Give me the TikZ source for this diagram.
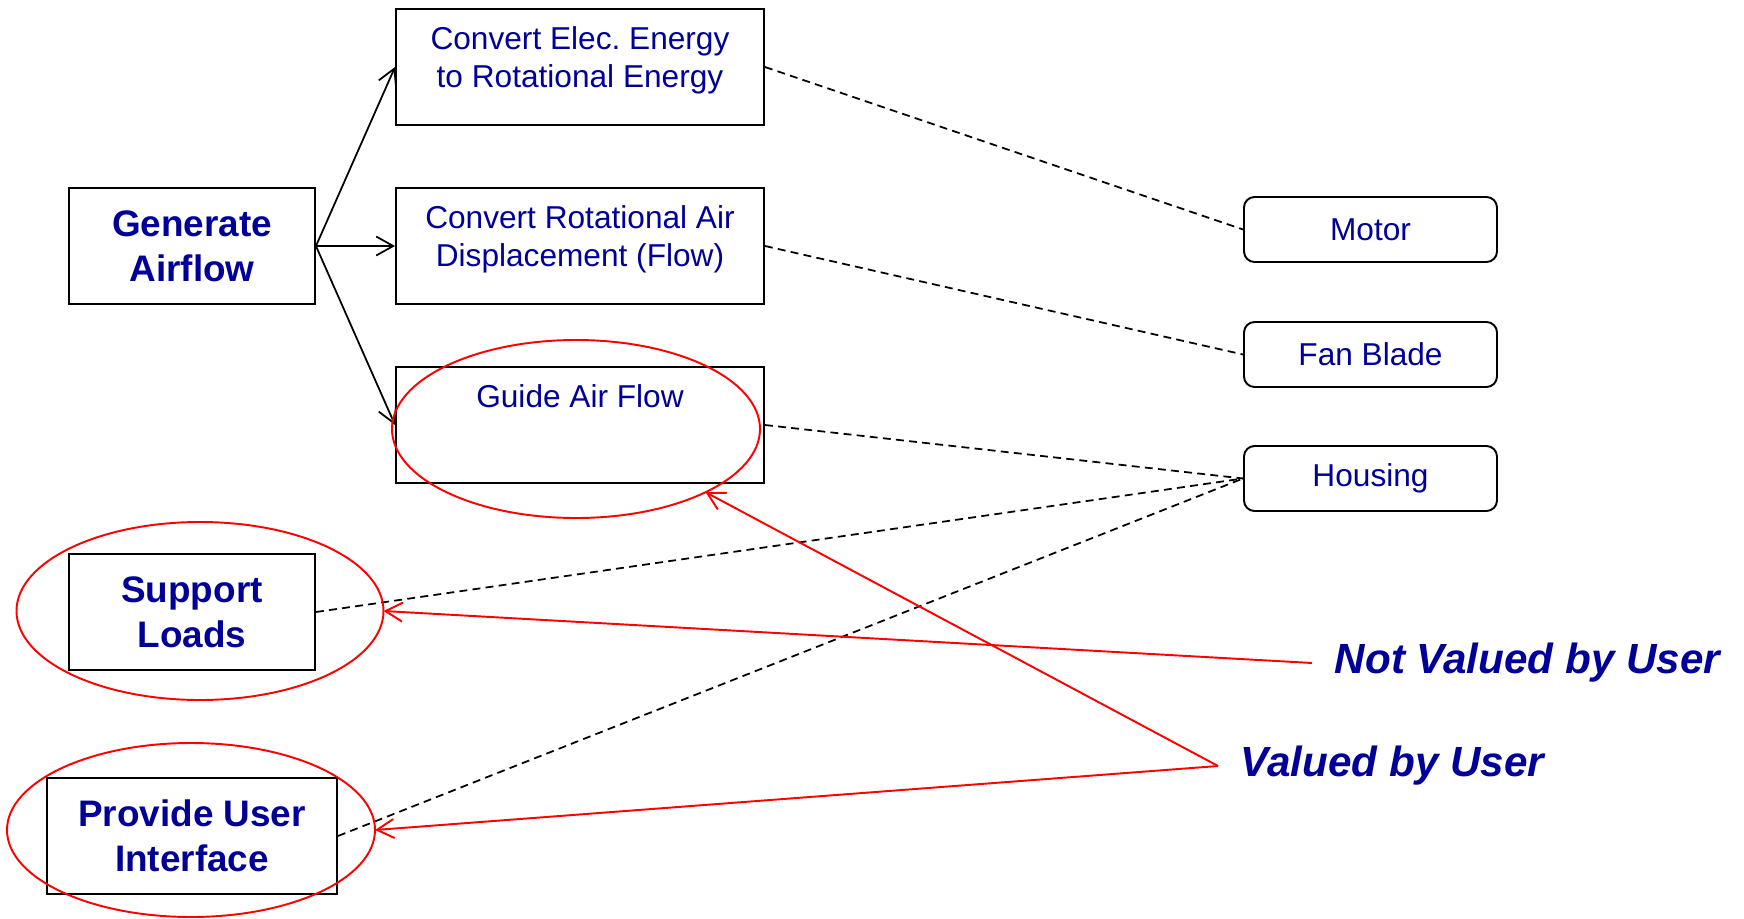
\documentclass[tikz,border=0pt]{standalone}
\usepackage{fontspec}
\setmainfont{Liberation Sans}
\usetikzlibrary{shapes.geometric, arrows.meta, positioning, calc}
\definecolor{fnblue}{HTML}{000099}
\definecolor{fnred}{HTML}{FF0000}
\frenchspacing

\begin{document}
\begin{tikzpicture}[
  mainfn/.style={rectangle, draw, line width=1.1pt, minimum width=4.92cm, minimum height=2.32cm,
                 align=center, text=fnblue, font=\fontsize{21}{25.5}\selectfont\bfseries},
  func/.style={rectangle, draw, line width=1.1pt, minimum width=7.36cm, minimum height=2.32cm},
  functext/.style={anchor=north, yshift=-0.37cm, inner sep=0pt, align=center,
                   text=fnblue, font=\fontsize{18}{21.6}\selectfont},
  comp/.style={rectangle, rounded corners=6pt, draw, line width=1.1pt, minimum width=5.06cm,
               minimum height=1.3cm, text=fnblue, font=\fontsize{18}{21.6}\selectfont},
  ring/.style={ellipse, draw=fnred, line width=1.1pt, minimum width=7.36cm, minimum height=3.56cm,
               inner sep=0pt, outer sep=0pt},
  note/.style={anchor=west, inner xsep=0.45cm, text=fnblue, font=\fontsize{24}{28.8}\selectfont\bfseries\itshape},
  decomp/.style={-{Straight Barb[length=0.34cm, width=0.38cm]}, line width=1pt},
  redarrow/.style={-{Straight Barb[length=0.34cm, width=0.38cm]}, draw=fnred, line width=1.1pt},
  link/.style={line width=1pt, dash pattern=on 4.5pt off 3pt},
]
  \useasboundingbox (0,0) rectangle (34.88,-18.36);

  % functions
  \node[mainfn] (gen) at (3.84,-4.92) {Generate\\Airflow};
  \node[mainfn] (support) at (3.84,-12.24) {Support\\Loads};
  \node[mainfn, minimum width=5.8cm] (provide) at (3.84,-16.72) {Provide User\\Interface};

  \node[func] (elec) at (11.6,-1.34) {};
  \node[func] (flow) at (11.6,-4.92) {};
  \node[func] (guide) at (11.6,-8.5) {};
  \node[functext] (elec-t) at (elec.north) {Convert Elec. Energy\\to Rotational Energy};
  \node[functext] (flow-t) at (flow.north) {Convert Rotational Air\\Displacement (Flow)};
  \node[functext] (guide-t) at (guide.north) {Guide Air Flow};

  % components
  \node[comp] (motor) at (27.41,-4.59) {Motor};
  \node[comp] (blade) at (27.41,-7.09) {Fan Blade};
  \node[comp] (housing) at (27.41,-9.57) {Housing};

  \draw[decomp] (gen.east) -- (elec.west);
  \draw[decomp] (gen.east) -- (flow.west);
  \draw[decomp] (gen.east) -- (guide.west);

  \draw[link] (elec.east) -- (motor.west);
  \draw[link] (flow.east) -- (blade.west);
  \draw[link] (guide.east) -- (housing.west);
  \draw[link] (support.east) -- (housing.west);
  \draw[link] (provide.east) -- (housing.west);

  % user value marks
  \node[ring] (gring) at (11.52,-8.58) {};
  \node[ring, minimum width=7.34cm] (sring) at (4.0,-12.22) {};
  \node[ring, minimum height=3.48cm] (pring) at (3.82,-16.6) {};

  \node[note, yshift=-0.04cm] (notval) at (26.24,-13.22) {Not Valued by User};
  \node[note, yshift=-0.08cm] (valued) at (24.36,-15.24) {Valued by User};

  \draw[redarrow] (notval.west) -- (sring.east);
  \draw[redarrow] (valued.west) -- (gring.-26);
  \draw[redarrow] (valued.west) -- (pring.east);

\end{tikzpicture}
\end{document}
